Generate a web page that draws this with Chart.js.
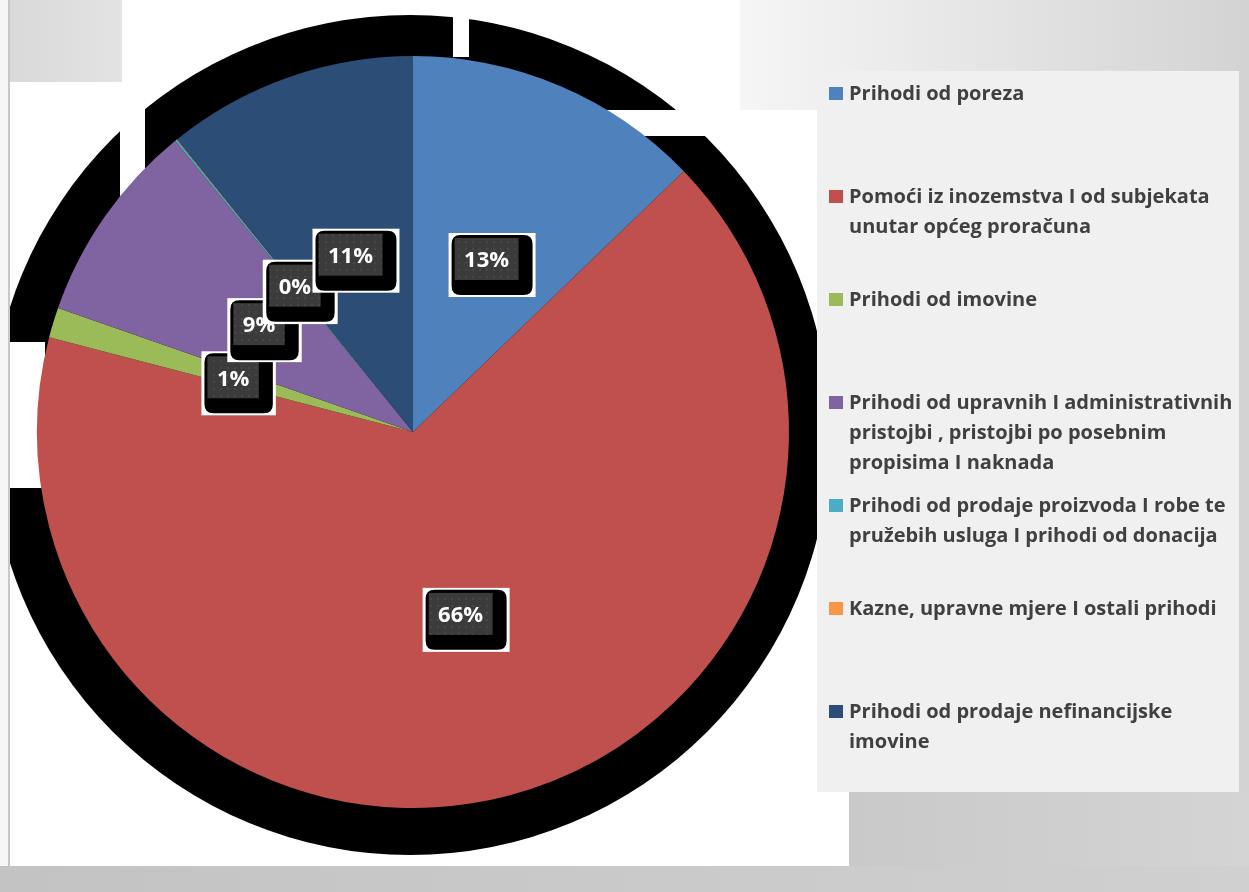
<!DOCTYPE html>
<html>
<head>
<meta charset="utf-8">
<title>Prihodi</title>
<script src="https://cdn.jsdelivr.net/npm/chart.js@4/dist/chart.umd.min.js"></script>
<style>
  html, body { margin: 0; padding: 0; background: #f4f4f4; overflow: hidden; }
  #chart { display: block; }
</style>
</head>
<body>
<canvas id="chart" width="1249" height="892"></canvas>
<script>
'use strict';

// legend names, already split into the lines shown in the picture
const categories = [
  ['Prihodi od poreza'],
  ['Pomoći iz inozemstva I od subjekata', 'unutar općeg proračuna'],
  ['Prihodi od imovine'],
  ['Prihodi od upravnih I administrativnih', 'pristojbi , pristojbi po posebnim', 'propisima I naknada'],
  ['Prihodi od prodaje proizvoda I robe te', 'pružebih usluga I prihodi od donacija'],
  ['Kazne, upravne mjere I ostali prihodi'],
  ['Prihodi od prodaje nefinancijske', 'imovine']
];
// shares in percent
const values = [12.8, 66.25, 1.3, 8.75, 0.08, 0.03, 10.79];
const colors = ['#4f81bd', '#c0504d', '#9bbb59', '#8064a2', '#4bacc6', '#f79646', '#2c4d75'];

document.addEventListener('DOMContentLoaded', function() {

  let canvasElem = document.getElementById('chart');

  // page / screenshot background pieces
  let backdrop = {
    id: 'backdrop',
    beforeDraw(chart) {
      let ctx = chart.ctx;
      ctx.save();
      let g = ctx.createLinearGradient(700, 0, 1249, 0);
      g.addColorStop(0, '#f8f8f8');
      g.addColorStop(1, '#d3d3d3');
      ctx.fillStyle = g;
      ctx.fillRect(0, 0, 1249, 892);
      // left margin + thin border
      ctx.fillStyle = '#f6f6f6';
      ctx.fillRect(0, 0, 8, 892);
      ctx.fillStyle = '#c8c8c8';
      ctx.fillRect(8, 0, 2, 866);
      // white sheet
      ctx.fillStyle = '#ffffff';
      ctx.fillRect(10, 0, 730, 866);
      ctx.fillRect(740, 110, 109, 756);
      // grey box top left
      let g2 = ctx.createLinearGradient(10, 0, 122, 0);
      g2.addColorStop(0, '#d9d9d9');
      g2.addColorStop(1, '#e3e3e3');
      ctx.fillStyle = g2;
      ctx.fillRect(10, 0, 112, 82);
      // grey below legend
      let g3 = ctx.createLinearGradient(849, 0, 1249, 0);
      g3.addColorStop(0, '#c9c9c9');
      g3.addColorStop(1, '#d4d4d4');
      ctx.fillStyle = g3;
      ctx.fillRect(849, 792, 400, 74);
      // bottom strip
      let g4 = ctx.createLinearGradient(0, 0, 1249, 0);
      g4.addColorStop(0, '#c3c3c3');
      g4.addColorStop(1, '#d0d0d0');
      ctx.fillStyle = g4;
      ctx.fillRect(0, 866, 1249, 26);
      ctx.restore();
    },
    beforeDatasetsDraw(chart) {
      // black shadow disc behind the pie, with the white gaps of the original
      let arc = chart.getDatasetMeta(0).data[0];
      let ctx = chart.ctx;
      ctx.save();
      ctx.beginPath();
      ctx.rect(10, 0, 808, 866);
      ctx.clip();
      ctx.fillStyle = '#000000';
      ctx.beginPath();
      ctx.arc(arc.x - 3, arc.y + 3, arc.outerRadius + 44, 0, Math.PI * 2);
      ctx.fill();
      ctx.fillStyle = '#ffffff';
      ctx.fillRect(453, 0, 16, 57);
      ctx.fillRect(560, 110, 180, 26);
      ctx.fillRect(120, 82, 25, 118);
      ctx.fillRect(10, 342, 35, 146);
      ctx.restore();
      // cover the top-left grey box and top-right gradient again
      ctx.save();
      let g2 = ctx.createLinearGradient(10, 0, 122, 0);
      g2.addColorStop(0, '#d9d9d9');
      g2.addColorStop(1, '#e3e3e3');
      ctx.fillStyle = g2;
      ctx.fillRect(10, 0, 112, 82);
      let g = ctx.createLinearGradient(700, 0, 1249, 0);
      g.addColorStop(0, '#f8f8f8');
      g.addColorStop(1, '#d3d3d3');
      ctx.fillStyle = g;
      ctx.fillRect(740, 0, 509, 110);
      ctx.restore();
    }
  };

  function roundRect(ctx, x, y, w, h, r) {
    ctx.beginPath();
    ctx.moveTo(x + r, y);
    ctx.lineTo(x + w - r, y);
    ctx.quadraticCurveTo(x + w, y, x + w, y + r);
    ctx.lineTo(x + w, y + h - r);
    ctx.quadraticCurveTo(x + w, y + h, x + w - r, y + h);
    ctx.lineTo(x + r, y + h);
    ctx.quadraticCurveTo(x, y + h, x, y + h - r);
    ctx.lineTo(x, y + r);
    ctx.quadraticCurveTo(x, y, x + r, y);
    ctx.closePath();
  }

  // dotted dark fill of the data labels
  let tile = document.createElement('canvas');
  tile.width = 7;
  tile.height = 7;
  let tctx = tile.getContext('2d');
  tctx.fillStyle = '#3b3b3b';
  tctx.fillRect(0, 0, 7, 7);
  tctx.fillStyle = '#474747';
  tctx.fillRect(3, 3, 2, 2);

  let percentLabels = {
    id: 'percentLabels',
    afterDatasetsDraw(chart) {
      let ctx = chart.ctx;
      let meta = chart.getDatasetMeta(0);
      let total = values.reduce((a, b) => a + b, 0);
      let pattern = ctx.createPattern(tile, 'repeat');
      ctx.save();
      ctx.font = 'bold 22px "Open Sans"';
      meta.data.forEach(function(el, i) {
        let pos = el.tooltipPosition();
        let text = Math.round(values[i] / total * 100) + '%';
        let tw = ctx.measureText(text).width;
        let w = tw + 19;
        let h = 42;
        let x0 = pos.x - w / 2;
        let y0 = pos.y - h / 2;
        // white outline
        ctx.fillStyle = '#ffffff';
        ctx.fillRect(x0 - 6, y0 - 5, w + 23, h + 22);
        // black shadow
        ctx.fillStyle = '#000000';
        roundRect(ctx, x0 - 3, y0 - 3, w + 17, h + 18, 9);
        ctx.fill();
        // dark box
        ctx.fillStyle = pattern;
        ctx.fillRect(x0, y0, w, h);
        ctx.fillStyle = '#ffffff';
        ctx.textAlign = 'center';
        ctx.textBaseline = 'middle';
        ctx.fillText(text, pos.x, pos.y + 2);
      });
      ctx.restore();
    }
  };

  let sideLegend = {
    id: 'sideLegend',
    afterDraw(chart) {
      let ctx = chart.ctx;
      ctx.save();
      ctx.fillStyle = '#f0f0f0';
      ctx.fillRect(817, 71, 422, 721);
      ctx.font = 'bold 20px "Open Sans"';
      ctx.textBaseline = 'alphabetic';
      ctx.textAlign = 'left';
      categories.forEach(function(lines, i) {
        let base = 100 + i * 103;
        ctx.fillStyle = colors[i];
        ctx.fillRect(829, base - 13, 14, 13);
        ctx.fillStyle = '#404040';
        lines.forEach(function(line, j) {
          ctx.fillText(line, 849, base + j * 30);
        });
      });
      ctx.restore();
    }
  };

  let chartData = {
    labels: categories,
    datasets: [{
      data: values,
      backgroundColor: colors,
      borderWidth: 0
    }]
  };

  let chartConfig = {
    type: 'pie',
    data: chartData,
    options: {
      responsive: false,
      animation: false,
      layout: {
        padding: { left: 37, right: 460, top: 56, bottom: 84 }
      },
      plugins: {
        legend: { display: false },
        tooltip: { enabled: false }
      }
    },
    plugins: [backdrop, percentLabels, sideLegend]
  };

  let myChart = new Chart(canvasElem, chartConfig);
});
</script>
</body>
</html>
